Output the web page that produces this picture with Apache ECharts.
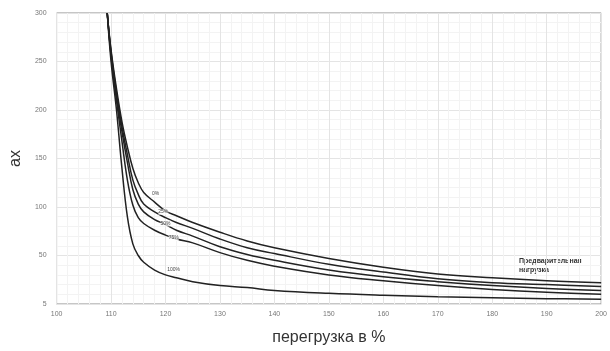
<!DOCTYPE html>
<html>
<head>
<meta charset="utf-8">
<script src="https://cdn.jsdelivr.net/npm/echarts@6/dist/echarts.min.js"></script>
<style>
  html, body { margin: 0; padding: 0; background: #fff; }
  #chart { width: 610px; height: 351px; }
</style>
</head>
<body>
<div id="chart"></div>
<script>
// Кривые перегрузки при разной предварительной нагрузке

const xs = [109.3, 110, 111, 112, 113, 114, 115, 116, 118, 120, 122, 125, 130, 135, 140, 150, 160, 170, 180, 190, 200]
const load0 = [300, 262, 222, 188, 162, 140, 125, 115, 105, 96, 91, 84, 74, 65, 58, 47, 38, 31, 27, 24, 22]
const load25 = [300, 260, 218, 183, 154, 128, 113, 103, 95, 89, 84, 78, 67, 58, 52, 41, 33, 26, 22, 20, 18]
const load50 = [300, 258, 214, 178, 146, 118, 103, 95, 87, 82, 76, 70, 59, 51, 45, 35, 28, 23, 19, 16, 14]
const load75 = [300, 256, 210, 168, 128, 102, 89, 83, 76, 71, 67, 63, 53, 45, 39, 30, 24, 19, 15, 12, 10]
const load100 = [300, 250, 200, 140, 90, 62, 50, 43, 35, 30, 27, 23, 19, 17, 14, 11, 9, 7.5, 6.5, 5.5, 5]

const curveNames = ['0%', '25%', '50%', '75%', '100%']
const curveValues = [load0, load25, load50, load75, load100]
// где подписаны кривые (в единицах осей)
const labelAt = [[118.2, 114], [119.6, 95], [120, 83], [121.5, 68], [121.5, 35]]

const chart = echarts.init(document.getElementById('chart'))

chart.setOption({
  backgroundColor: '#fff',
  animation: false,
  grid: { left: 54, right: 6, top: 13, bottom: 46, show: true, borderColor: '#8c8c8c', borderWidth: 1 },
  xAxis: {
    type: 'value',
    min: 100,
    max: 200,
    interval: 10,
    name: 'перегрузка в %',
    nameLocation: 'middle',
    nameGap: 26,
    nameTextStyle: { fontSize: 16, color: '#333', fontFamily: 'Liberation Sans' },
    axisLine: { show: false },
    axisTick: { show: false },
    axisLabel: { fontSize: 7, color: '#777', margin: 7 },
    splitLine: { lineStyle: { color: '#e4e4e4' } },
    minorTick: { show: false, splitNumber: 5 },
    minorSplitLine: { show: true, lineStyle: { color: '#f3f3f3' } },
  },
  yAxis: {
    type: 'value',
    min: 0,
    max: 300,
    interval: 50,
    name: 'ax',
    nameLocation: 'middle',
    nameGap: 32,
    nameTextStyle: { fontSize: 16, color: '#333', fontFamily: 'Liberation Sans' },
    axisLine: { show: false },
    axisTick: { show: false },
    axisLabel: { fontSize: 7, color: '#777', margin: 10, formatter: (v) => (v === 0 ? '5' : String(v)) },
    splitLine: { lineStyle: { color: '#e4e4e4' } },
    minorSplitLine: { show: true, lineStyle: { color: '#f3f3f3' } },
  },
  graphic: [{
    type: 'text',
    left: 519,
    top: 257,
    style: {
      text: 'Предварительная\nнагрузка',
      font: 'bold 7px "Liberation Sans"',
      fill: '#333',
      lineHeight: 9,
    },
  }],
  series: curveValues.map((vals, i) => ({
    name: curveNames[i],
    type: 'line',
    data: xs.map((x, j) => [x, vals[j]]),
    symbol: 'none',
    smooth: 0.4,
    lineStyle: { color: '#222', width: 1.5 },
    markPoint: {
      symbol: 'rect',
      symbolSize: [i === 4 ? 13 : 10, 6],
      itemStyle: { color: 'rgba(255,255,255,0.7)' },
      label: { show: true, formatter: curveNames[i], fontSize: 5, color: '#444' },
      data: [{ coord: labelAt[i] }],
    },
  })),
})
</script>
</body>
</html>
